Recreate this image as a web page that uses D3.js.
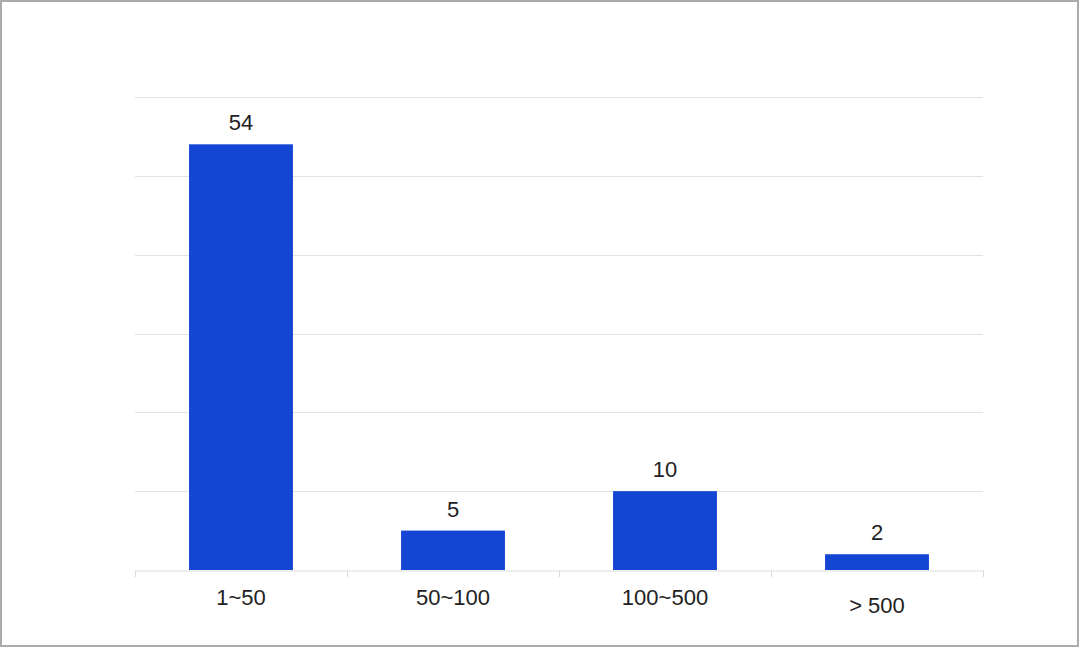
<!DOCTYPE html>
<html><head><meta charset="utf-8">
<script src="https://cdn.jsdelivr.net/npm/d3@7"></script>
<style>html,body{margin:0;padding:0;background:#fff;}svg{display:block;}</style>
</head><body>
<svg id="c" width="1080" height="648"></svg>
<script>
const categories = ["1~50", "50~100", "100~500", "> 500"];
const values = [54, 5, 10, 2];
const yTicks = [0, 10, 20, 30, 40, 50, 60];

const svg = d3.select("#c");
const W = 1080, H = 648;
const m = {left: 135, right: 97, top: 97, bottom: 78};
const x = d3.scaleBand().domain(categories).range([m.left, W - m.right]).padding(0);
const y = d3.scaleLinear().domain([0, 60]).range([H - m.bottom, m.top]);
const font = "Liberation Sans, Arial, sans-serif";

svg.append("rect").attr("x", 1).attr("y", 1).attr("width", 1077).attr("height", 645)
  .attr("fill", "#fff").attr("stroke", "#ababab").attr("stroke-width", 2);

// gridlines
svg.append("g").selectAll("line").data(yTicks.filter(d => d > 0)).join("line")
  .attr("x1", m.left).attr("x2", W - m.right)
  .attr("y1", d => Math.round(y(d)) + 0.5).attr("y2", d => Math.round(y(d)) + 0.5)
  .attr("stroke", "#e2e2e2").attr("stroke-width", 1);

// bars
const bw = x.bandwidth() * 0.49;
svg.append("g").selectAll("rect").data(values).join("rect")
  .attr("x", (d, i) => x(categories[i]) + (x.bandwidth() - bw) / 2)
  .attr("width", bw)
  .attr("y", d => y(d))
  .attr("height", d => y(0) - y(d))
  .attr("fill", "#1446d4");

// x axis
const xa = svg.append("g").attr("transform", `translate(0,${Math.round(y(0)) + 0.5})`)
  .call(d3.axisBottom(x).tickSize(0).tickSizeOuter(0).tickFormat(""));
xa.select(".domain").attr("stroke", "#dcdcdc");
const bounds = [...categories.map(c => x(c)), W - m.right];
svg.append("g").selectAll("line").data(bounds).join("line")
  .attr("x1", d => Math.round(d) + 0.5).attr("x2", d => Math.round(d) + 0.5)
  .attr("y1", y(0)).attr("y2", y(0) + 7)
  .attr("stroke", "#dcdcdc");

// category labels
const labelShift = c => c.startsWith(">") ? 8 : 0;
svg.append("g").selectAll("text").data(categories).join("text")
  .attr("x", c => x(c) + x.bandwidth() / 2)
  .attr("y", c => y(0) + 35 + labelShift(c))
  .attr("text-anchor", "middle")
  .attr("font-family", font).attr("font-size", 22).attr("fill", "#222")
  .text(c => c);

// value labels
svg.append("g").selectAll("text").data(values).join("text")
  .attr("x", (d, i) => x(categories[i]) + x.bandwidth() / 2)
  .attr("y", d => y(d) - 14)
  .attr("text-anchor", "middle")
  .attr("font-family", font).attr("font-size", 22).attr("fill", "#222")
  .text(d => d);
</script>
</body></html>
